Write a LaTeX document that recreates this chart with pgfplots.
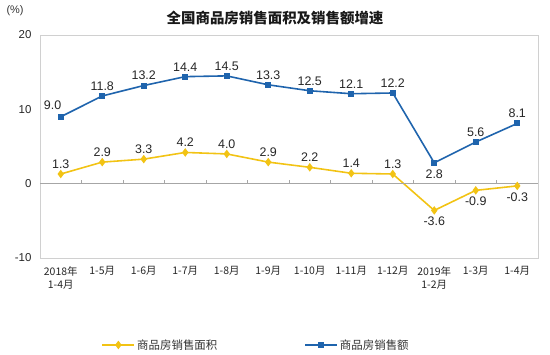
\documentclass[border=0pt]{standalone}
\usepackage{pgfplots}
\pgfplotsset{compat=1.18}
\usepackage{fontspec}
\setmainfont{Liberation Sans}
\newfontfamily\cjk{Noto Sans CJK SC}
\definecolor{cblue}{HTML}{1F64AD}
\definecolor{cyel}{HTML}{F2C314}
\definecolor{fgray}{HTML}{D0D0D0}
\begin{document}
\begin{tikzpicture}
\path[use as bounding box] (-40bp,-97bp) rectangle (510bp,258bp);
\begin{axis}[
  at={(0,0)}, anchor=south west,
  scale only axis, width=498bp, height=223bp,
  xmin=-0.5, xmax=11.5, ymin=-10, ymax=20,
  ytick={-10,0,10,20},
  xtick={0,...,11},
  xticklabels={{2018年\\1-4月},{1-5月},{1-6月},{1-7月},{1-8月},{1-9月},{1-10月},{1-11月},{1-12月},{2019年\\1-2月},{1-3月},{1-4月}},
  x tick label style={font=\cjk\fontsize{10.5}{13.5}\selectfont, align=center, text=black!85, anchor=north, yshift=-5bp},
  y tick label style={font=\fontsize{11.5}{12}\selectfont, text=black!85, xshift=-5bp},
  major tick length=0pt,
  axis line style={fgray, line width=0.8pt},
  /pgf/number format/assume math mode=true,
  legend style={at={(0.434,-0.39)}, anchor=center, draw=none, font=\cjk\fontsize{11.5}{13}\selectfont, legend columns=2, /tikz/every even column/.append style={column sep=85bp}, text=black!80},
  legend cell align=left,
  legend image code/.code={\draw[mark repeat=2,mark phase=2,#1] plot coordinates {(0bp,0bp)(16bp,0bp)(32bp,0bp)};},
  clip=false,
]
\addplot[cyel, line width=1.6pt, mark=diamond*, mark size=3pt, mark options={fill=cyel}] table {
x y
0 1.3
1 2.9
2 3.3
3 4.2
4 4.0
5 2.9
6 2.2
7 1.4
8 1.3
9 -3.6
10 -0.9
11 -0.3
};
\addlegendentry{商品房销售面积}
\addplot[cblue, line width=1.6pt, mark=square*, mark size=2.2pt, mark options={fill=cblue}] table {
x y
0 9.0
1 11.8
2 13.2
3 14.4
4 14.5
5 13.3
6 12.5
7 12.1
8 12.2
9 2.8
10 5.6
11 8.1
};
\addlegendentry{商品房销售额}
% data labels above
\addplot[draw=none, mark=none, forget plot, point meta=explicit symbolic, nodes near coords, every node near coord/.append style={font=\fontsize{12.5}{13}\selectfont, text=black!85, anchor=south, yshift=2bp}] table[meta=lab] {
x y lab
0 1.3 1.3
1 2.9 2.9
2 3.3 3.3
3 4.2 4.2
4 4.0 4.0
5 2.9 2.9
6 2.2 2.2
7 1.4 1.4
8 1.3 1.3
1 11.8 11.8
2 13.2 13.2
3 14.4 14.4
4 14.5 14.5
5 13.3 13.3
6 12.5 12.5
7 12.1 12.1
8 12.2 12.2
10 5.6 5.6
11 8.1 8.1
};
\addplot[draw=none, mark=none, forget plot, point meta=explicit symbolic, nodes near coords, every node near coord/.append style={font=\fontsize{12.5}{13}\selectfont, text=black!85, anchor=south east, xshift=4bp, yshift=4bp}] table[meta=lab] {
x y lab
0 9.0 9.0
};
% data labels below
\addplot[draw=none, mark=none, forget plot, point meta=explicit symbolic, nodes near coords, every node near coord/.append style={font=\fontsize{12.5}{13}\selectfont, text=black!85, anchor=north, yshift=-3bp}] table[meta=lab] {
x y lab
9 -3.6 -3.6
10 -0.9 -0.9
11 -0.3 -0.3
9 2.8 2.8
};
% zero line with boundary ticks
\draw[black!35, line width=0.8pt] (axis cs:-0.5,0) -- (axis cs:11.5,0);
\pgfplotsinvokeforeach{0.5,1.5,2.5,3.5,4.5,5.5,6.5,7.5,8.5,9.5,10.5}{\draw[black!35, line width=0.6pt] (axis cs:#1,0) -- ++(0pt,4bp);}
\node[font=\fontsize{11}{12}\selectfont, text=black!80] at (axis description cs:-0.05,1.11) {(\%)};
\node[font=\cjk\bfseries\fontsize{14.5}{16}\selectfont, text=black!90] at (axis description cs:0.472,1.076) {全国商品房销售面积及销售额增速};
\end{axis}
\end{tikzpicture}
\end{document}
